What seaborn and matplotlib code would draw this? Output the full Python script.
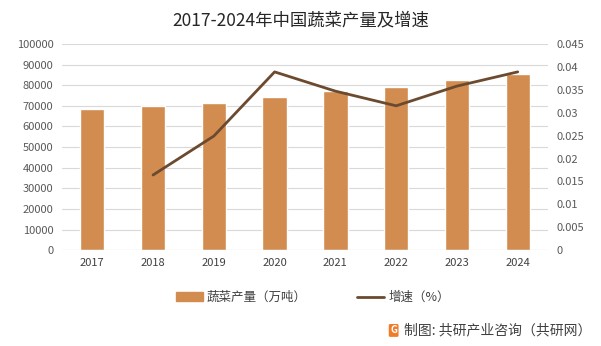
import matplotlib
matplotlib.use("Agg")
import matplotlib.pyplot as plt
import seaborn as sns
import pandas as pd
from matplotlib.lines import Line2D
from matplotlib.patches import Patch

years = ["2017", "2018", "2019", "2020", "2021", "2022", "2023", "2024"]
production = [68400, 69900, 71400, 74300, 77200, 79100, 82500, 85400]
growth = [None, 0.0164, 0.0249, 0.0389, 0.0347, 0.0315, 0.0358, 0.0389]

sns.set_style("white")
plt.rcParams['font.family'] = ['Noto Sans CJK SC', 'DejaVu Sans']

bar_color = "#D38C4F"
line_color = "#6B4A30"
text_color = "#595959"

fig = plt.figure(figsize=(6.01, 3.46), dpi=100)
ax = fig.add_axes([0.103, 0.277, 0.809, 0.596])
df = pd.DataFrame({"year": years, "prod": production, "growth": growth})
sns.barplot(data=df, x="year", y="prod", color=bar_color, width=0.4, ax=ax, saturation=1)
ax.set_ylim(0, 100000)
ax.set_yticks(range(0, 100001, 10000))
ax.set_yticklabels([str(v) for v in range(0, 100001, 10000)], fontsize=8, color=text_color)
ax.grid(axis="y", color="#D9D9D9", linewidth=0.8)
ax.set_axisbelow(True)
for s in ax.spines.values():
    s.set_visible(False)
ax.tick_params(axis="both", length=0, pad=6)
ax.tick_params(axis="x", labelsize=8, labelcolor="#404040")
ax.set_xlabel("")
ax.set_ylabel("")
ax.axhline(0, color="#D9D9D9", linewidth=0.8)

ax2 = ax.twinx()
sub = df.dropna()
ax2.plot([years.index(y) for y in sub["year"]], sub["growth"], color=line_color, linewidth=2)
ax2.set_ylim(0, 0.045)
yt = [0, 0.005, 0.01, 0.015, 0.02, 0.025, 0.03, 0.035, 0.04, 0.045]
ax2.set_yticks(yt)
ax2.set_yticklabels(["0", "0.005", "0.01", "0.015", "0.02", "0.025", "0.03", "0.035", "0.04", "0.045"], fontsize=8, color=text_color)
ax2.tick_params(axis="y", length=0, pad=6)
for s in ax2.spines.values():
    s.set_visible(False)
ax2.grid(False)
ax.set_xlim(-0.5, 7.5)

fig.text(0.5, 0.942, "2017-2024年中国蔬菜产量及增速", ha="center", va="center", fontsize=12.5, color="#262626")

handles = [Patch(color=bar_color, label="蔬菜产量（万吨）"),
           Line2D([0], [0], color=line_color, linewidth=2, label="增速（%）")]
fig.legend(handles=handles, loc="center", bbox_to_anchor=(0.52, 0.14), ncol=2, frameon=False,
           fontsize=9, handlelength=2.2, handletextpad=0.3, columnspacing=4.0, labelcolor="#404040")

fig.text(0.673, 0.045, "制图: 共研产业咨询（共研网）", ha="left", va="center", fontsize=10, color="#404040")
fig.text(0.655, 0.045, "G", ha="center", va="center", fontsize=7, color="white", fontweight="bold",
         bbox=dict(boxstyle="round,pad=0.15", fc="#F07C2A", ec="none"))

fig.savefig("out.png", dpi=100)
